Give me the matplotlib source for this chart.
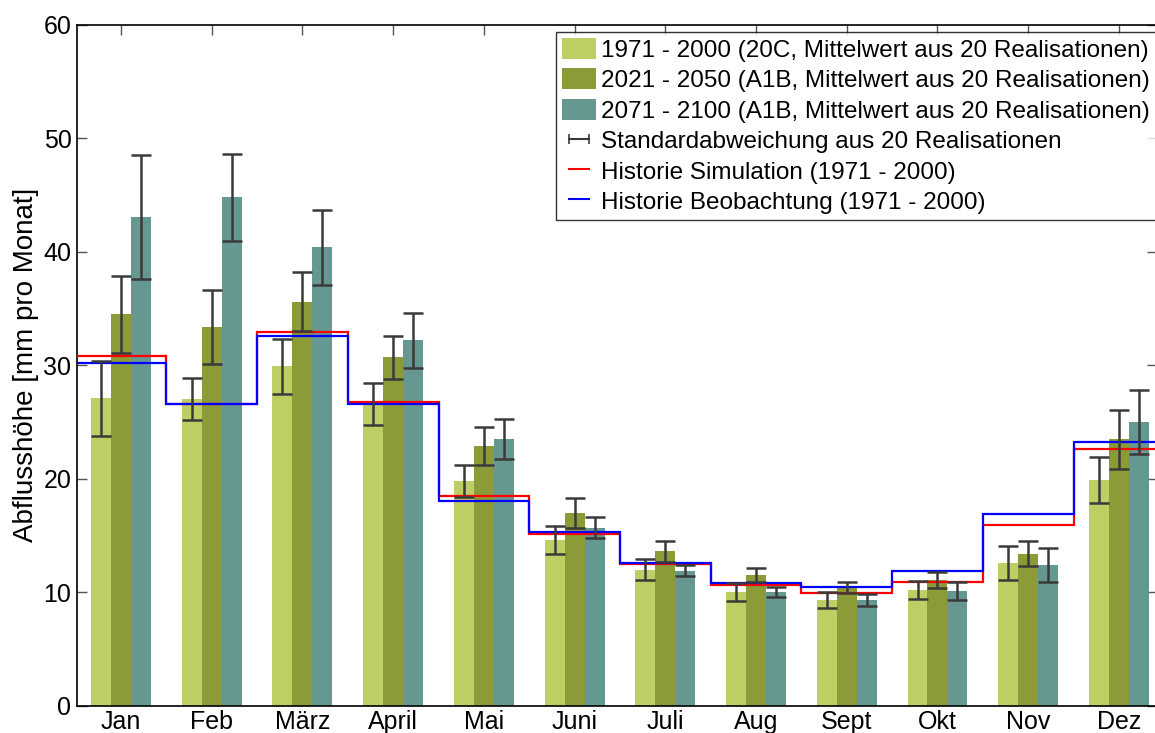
import numpy as np
import matplotlib
matplotlib.use('Agg')
import matplotlib.pyplot as plt
from matplotlib.patches import Patch
from matplotlib.lines import Line2D

plt.rcParams['font.family'] = ['Liberation Sans', 'DejaVu Sans']

MONTHS = ['Jan', 'Feb', 'März', 'April', 'Mai', 'Juni', 'Juli', 'Aug', 'Sept', 'Okt', 'Nov', 'Dez']

# Mittelwerte und Standardabweichungen (mm pro Monat)
MEAN_1971 = [27.1, 27.0, 29.9, 26.6, 19.8, 14.6, 12.0, 10.0, 9.3, 10.2, 12.6, 19.9]
STD_1971 = [3.3, 1.85, 2.45, 1.85, 1.4, 1.2, 0.95, 0.8, 0.72, 0.8, 1.5, 2.0]
MEAN_2021 = [34.5, 33.4, 35.6, 30.7, 22.9, 17.0, 13.6, 11.5, 10.4, 11.1, 13.4, 23.5]
STD_2021 = [3.4, 3.25, 2.6, 1.9, 1.7, 1.3, 0.9, 0.6, 0.5, 0.7, 1.1, 2.6]
MEAN_2071 = [43.1, 44.8, 40.4, 32.2, 23.5, 15.7, 11.9, 10.0, 9.3, 10.1, 12.4, 25.0]
STD_2071 = [5.45, 3.85, 3.3, 2.4, 1.75, 0.95, 0.5, 0.43, 0.55, 0.77, 1.5, 2.8]

HIST_SIM = [30.8, 26.6, 32.9, 26.8, 18.5, 15.1, 12.5, 10.6, 9.9, 10.9, 15.9, 22.6]
HIST_OBS = [30.2, 26.6, 32.6, 26.6, 18.0, 15.3, 12.6, 10.8, 10.5, 11.9, 16.9, 23.2]

LABELS = ['1971 - 2000 (20C, Mittelwert aus 20 Realisationen)',
          '2021 - 2050 (A1B, Mittelwert aus 20 Realisationen)',
          '2071 - 2100 (A1B, Mittelwert aus 20 Realisationen)']
COLORS = ['#bfce64', '#8b9b37', '#649891']

BAR_W = 0.22
ERR_COLOR = '#3a3a3a'


def main():
    fig = plt.figure(figsize=(11.55, 7.33), dpi=100)
    # axes right edge slightly outside the picture, like the cropped original
    ax = fig.add_axes([77 / 1155, 27.3 / 733, 1080 / 1155, 680.7 / 733])

    x = np.arange(1, len(MONTHS) + 1)
    series = [(MEAN_1971, STD_1971), (MEAN_2021, STD_2021), (MEAN_2071, STD_2071)]

    for i, (mean, std) in enumerate(series):
        pos = x + (i - 1) * BAR_W
        ax.bar(pos, mean, width=BAR_W, color=COLORS[i], zorder=2)

    edges = np.arange(0.5, len(MONTHS) + 1.5)
    ax.stairs(HIST_SIM, edges, color='red', linewidth=1.6, baseline=None, zorder=3)
    ax.stairs(HIST_OBS, edges, color='blue', linewidth=1.6, baseline=None, zorder=3)

    for i, (mean, std) in enumerate(series):
        pos = x + (i - 1) * BAR_W
        ax.errorbar(pos, mean, yerr=std, fmt='none', ecolor=ERR_COLOR,
                    elinewidth=1.8, capsize=7, capthick=1.8, zorder=4)

    ax.set_xlim(0.515, 12.42)
    ax.set_ylim(0, 60)
    ax.set_yticks(range(0, 61, 10))
    ax.set_xticks(x)
    ax.set_xticklabels(MONTHS)
    ax.tick_params(axis='both', labelsize=18, direction='in', length=7,
                   color='#555555', width=1)
    ax.tick_params(axis='x', bottom=False, top=True, pad=3)
    ax.tick_params(axis='y', left=True, right=True, pad=4)
    for side in ax.spines.values():
        side.set_linewidth(1.2)
    ax.set_ylabel('Abflusshöhe [mm pro Monat]', fontsize=20, labelpad=3)

    handles = [Patch(facecolor=c, edgecolor='none') for c in COLORS]
    handles.append(Line2D([], [], color=ERR_COLOR, linewidth=1.5, marker='|',
                          markersize=7, markeredgewidth=1.2))
    handles.append(Line2D([], [], color='red', linewidth=1.5))
    handles.append(Line2D([], [], color='blue', linewidth=1.5))
    labels = LABELS + ['Standardabweichung aus 20 Realisationen',
                       'Historie Simulation (1971 - 2000)',
                       'Historie Beobachtung (1971 - 2000)']

    leg = ax.legend(handles, labels, loc='upper left',
                    bbox_to_anchor=((556 - 77) / 1080, 1 - 7 / 680.7),
                    fontsize=17.5, frameon=True, fancybox=False, numpoints=2,
                    handlelength=1.4, handleheight=0.95, handletextpad=0.2,
                    labelspacing=0.27, borderaxespad=0, borderpad=0.25)
    leg.get_frame().set_edgecolor('black')
    leg.get_frame().set_linewidth(1.0)
    leg.set_zorder(5)

    fig.savefig('out.png', dpi=100)


if __name__ == '__main__':
    main()
